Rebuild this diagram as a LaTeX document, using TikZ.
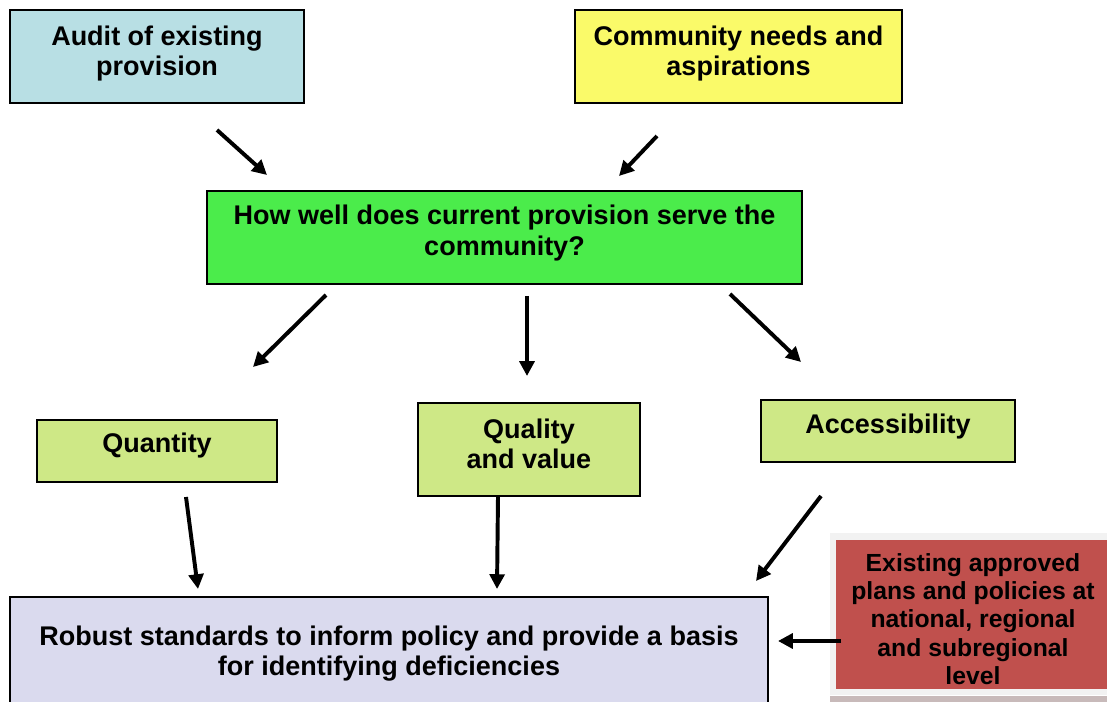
\documentclass[tikz,border=0pt]{standalone}
\usepackage{fontspec}
\setmainfont{Liberation Sans}
\usepackage{xcolor}
\usepackage{tikz}
\usetikzlibrary{arrows.meta}

\definecolor{auditblue}{RGB}{184,223,228}
\definecolor{needsyellow}{RGB}{250,250,105}
\definecolor{servegreen}{RGB}{75,236,75}
\definecolor{aspectgreen}{RGB}{206,232,134}
\definecolor{robustlilac}{RGB}{218,218,238}
\definecolor{plansred}{RGB}{192,80,77}
\definecolor{framegrey}{RGB}{242,242,242}
\definecolor{stripgrey}{RGB}{200,186,186}

\begin{document}
\begin{tikzpicture}[
  x=0.025cm, y=-0.025cm,
  every node/.style={font=\bfseries\fontsize{19.2}{21.4}\selectfont},
  box/.style={rectangle, draw, line width=0.8pt, inner sep=0pt},
  sz/.style 2 args={minimum width=#1*0.025cm, minimum height=#2*0.025cm},
  txt/.style={align=center, inner sep=0pt},
  flow/.style={-{Triangle[length=10.5pt,width=10.5pt]}, line width=2.8pt},
]
  \clip (0,0) rectangle (1107,702);
  \fill[white] (0,0) rectangle (1107,702);

  % inputs
  \node[box, fill=auditblue, sz={294}{93}] (audit) at (157,56.5) {};
  \node[txt] (audit-t) at (157,53.5) {Audit of existing\\provision};
  \node[box, fill=needsyellow, sz={327}{93}] (needs) at (738.5,56.5) {};
  \node[txt] (needs-t) at (738.5,53.5) {Community needs and\\aspirations};

  % central question
  \node[box, fill=servegreen, sz={595}{93}] (serve) at (504.5,237.5) {};
  \node[txt] (serve-t) at (504.5,233) {How well does current provision serve the\\community?};

  % three aspects
  \node[box, fill=aspectgreen, sz={240}{62}] (quantity) at (157,451) {};
  \node[txt] (quantity-t) at (157,446) {Quantity};
  \node[box, fill=aspectgreen, sz={222}{93}] (quality) at (529,449.5) {};
  \node[txt] (quality-t) at (529,444) {Quality\\and value};
  \node[box, fill=aspectgreen, sz={254}{62}] (access) at (888,431) {};
  \node[txt] (access-t) at (888,427) {Accessibility};

  % outcome
  \node[box, fill=robustlilac, sz={758}{140}] (robust) at (389,667) {};
  \node[txt] (robust-t) at (389,653.5) {Robust standards to inform policy and provide a basis\\for identifying deficiencies};

  % existing policy framework
  \fill[stripgrey] (830,696) rectangle (1107,702);
  \node[rectangle, fill=framegrey, sz={290}{162}, inner sep=0pt] (frame) at (975,614) {};
  \node[rectangle, fill=plansred, sz={280}{149}, inner sep=0pt] (plans) at (976,614.5) {};
  \begin{scope}
    \clip (836,540) rectangle (1107,688);
    \node[txt, font=\bfseries\fontsize{17.6}{20.1}\selectfont] (plans-t) at (973,619)
      {Existing approved\\plans and policies at\\national, regional\\and subregional\\level};
  \end{scope}

  % arrow ends
  \coordinate (a1) at (217,130);  \coordinate (b1) at (267,175);
  \coordinate (a2) at (657,136);  \coordinate (b2) at (619,176);
  \coordinate (a3) at (326,295);  \coordinate (b3) at (253,367);
  \coordinate (a4) at (527,296);  \coordinate (b4) at (527,376);
  \coordinate (a5) at (730,294);  \coordinate (b5) at (801,362);
  \coordinate (a6) at (186,497);  \coordinate (b6) at (198,589);
  \coordinate (a7) at (498,497);  \coordinate (b7) at (497,589);
  \coordinate (a8) at (821,496);  \coordinate (b8) at (756,581);
  \coordinate (a9) at (841,641);  \coordinate (b9) at (778,641);

  \foreach \i in {1,...,9}
    \draw[flow] (a\i) -- (b\i);
\end{tikzpicture}
\end{document}
